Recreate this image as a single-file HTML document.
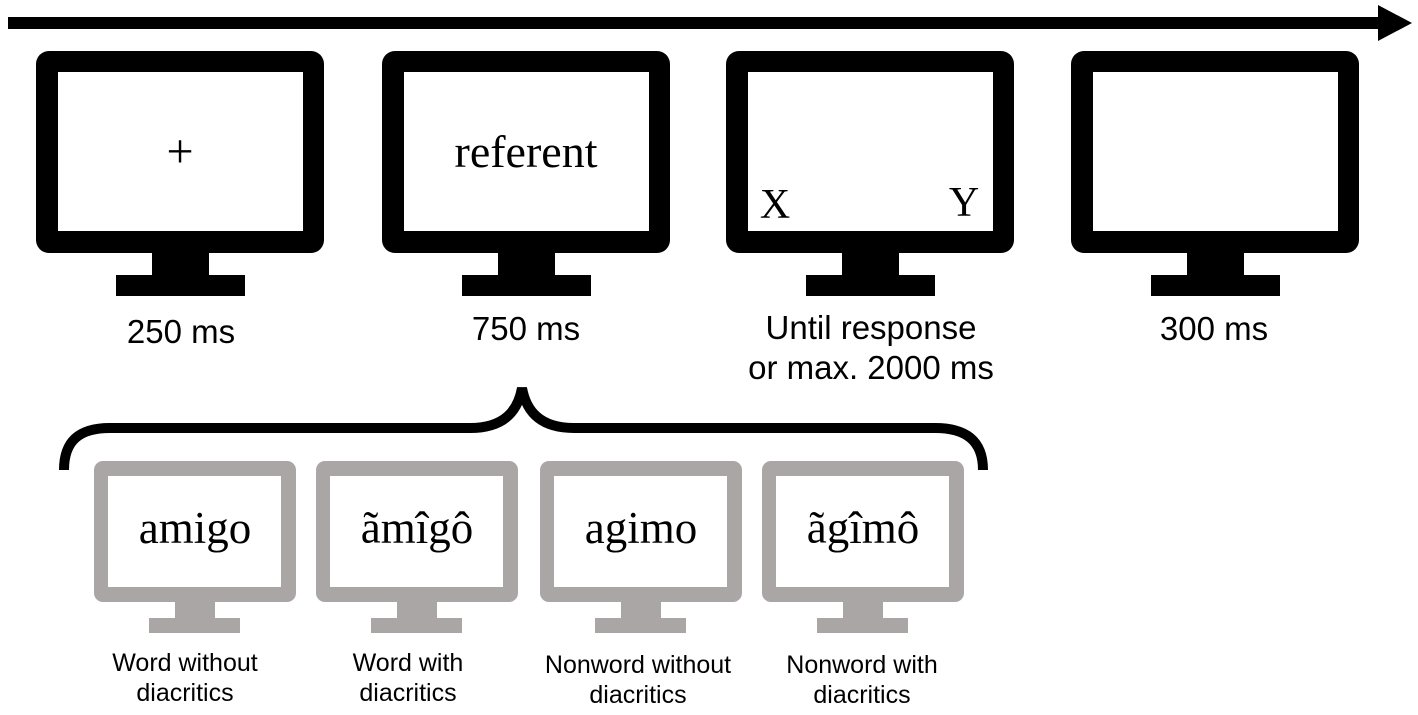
<!DOCTYPE html>
<html><head><meta charset="utf-8"><style>
html,body{margin:0;padding:0;background:#fff;}
svg{display:block;}
.s{font-family:"Liberation Sans",Arial,sans-serif;fill:#000;}
.r{font-family:"Liberation Serif","Times New Roman",serif;fill:#000;}
</style></head><body>
<svg width="1418" height="715" viewBox="0 0 1418 715" xmlns="http://www.w3.org/2000/svg">
<rect x="8" y="17" width="1375" height="12" fill="#000"/>
<polygon points="1378,5 1412,23 1378,41" fill="#000"/>

<g id="m">
<rect x="36" y="51" width="288" height="202" rx="13" fill="#000"/>
<rect x="58" y="72" width="245" height="159" fill="#fff"/>
<rect x="152" y="252" width="57" height="24" fill="#000"/>
<rect x="116" y="275" width="129" height="21" fill="#000"/>
</g>
<use href="#m" x="346"/>
<use href="#m" x="690"/>
<use href="#m" x="1035"/>

<text class="r" x="180" y="167" font-size="48" text-anchor="middle">+</text>
<text class="r" x="526" y="167" font-size="46" text-anchor="middle">referent</text>
<text class="r" x="775" y="218" font-size="42" text-anchor="middle">X</text>
<text class="r" x="964" y="216" font-size="42" text-anchor="middle">Y</text>

<g class="s" font-size="33" text-anchor="middle">
<text x="181" y="343">250 ms</text>
<text x="526" y="340">750 ms</text>
<text x="871" y="339">Until response</text>
<text x="871" y="379">or max. 2000 ms</text>
<text x="1214" y="340">300 ms</text>
</g>

<path d="M64,470 C64,440 80,428 110,428 L470,428 C505,428 518,410 522,388 C526,410 539,428 574,428 L935,428 C965,428 983,440 983,470" fill="none" stroke="#000" stroke-width="10"/>

<g id="g">
<rect x="94" y="461" width="202" height="141" rx="9" fill="#aaa6a6"/>
<rect x="108" y="476" width="173" height="111" fill="#fff"/>
<rect x="175" y="601" width="40" height="18" fill="#aaa6a6"/>
<rect x="149" y="618" width="91" height="15" fill="#aaa6a6"/>
</g>
<use href="#g" x="222"/>
<use href="#g" x="446"/>
<use href="#g" x="668"/>

<g class="r" font-size="45" text-anchor="middle">
<text x="195" y="543">amigo</text>
<text x="417" y="543">ãmîgô</text>
<text x="641" y="543">agimo</text>
<text x="863" y="543">ãgîmô</text>
</g>

<g class="s" font-size="25" text-anchor="middle">
<text x="185" y="671">Word without</text><text x="185" y="701">diacritics</text>
<text x="408" y="671">Word with</text><text x="408" y="701">diacritics</text>
<text x="638" y="673">Nonword without</text><text x="638" y="703">diacritics</text>
<text x="862" y="673">Nonword with</text><text x="862" y="703">diacritics</text>
</g>
</svg>
</body></html>
